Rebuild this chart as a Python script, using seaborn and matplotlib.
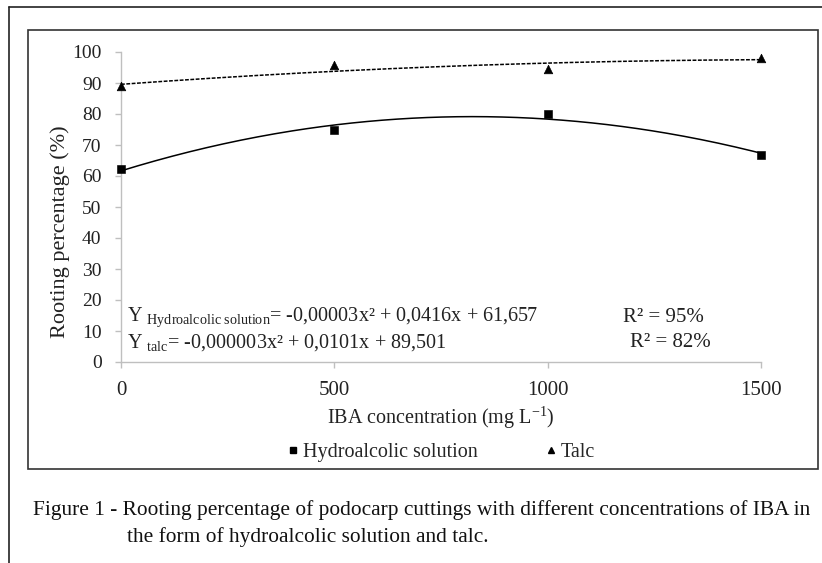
import numpy as np
import pandas as pd
import seaborn as sns
import matplotlib.pyplot as plt
from matplotlib.lines import Line2D
from matplotlib.patches import Rectangle

# data
iba_conc = [0, 500, 1000, 1500]
hydro_rooting = [62.2, 74.8, 80.0, 66.8]
talc_rooting = [88.9, 95.8, 94.4, 98.2]
y_ticks = list(range(0, 101, 10))
x_ticks = [0, 500, 1000, 1500]

sns.set_theme(style="white")
plt.rcParams['font.family'] = ['Liberation Serif', 'DejaVu Serif']
plt.rcParams['mathtext.fontset'] = 'custom'
plt.rcParams['mathtext.rm'] = 'Liberation Serif'
plt.rcParams['mathtext.it'] = 'Liberation Serif:italic'

df = pd.DataFrame({"x": iba_conc * 2,
                   "y": hydro_rooting + talc_rooting,
                   "form": ["Hydroalcolic solution"] * 4 + ["Talc"] * 4})

# quadratic trend lines (like Excel)
xs = np.linspace(0, 1500, 300)
fit_h = np.polyval(np.polyfit(iba_conc, hydro_rooting, 2), xs)
fit_t = np.polyval(np.polyfit(iba_conc, talc_rooting, 2), xs)

fig = plt.figure(figsize=(8.22, 5.63), dpi=100)
ax = fig.add_axes([121 / 822, 1 - 362 / 563, 640 / 822, 310 / 563])

sns.lineplot(x=xs, y=fit_h, ax=ax, color="black", lw=1.1, clip_on=False)
sns.lineplot(x=xs, y=fit_t, ax=ax, color="black", lw=1.1, linestyle=(0, (2.5, 1)), clip_on=False)

hyd = df[df.form == "Hydroalcolic solution"]
tal = df[df.form == "Talc"]
sns.scatterplot(data=hyd, x="x", y="y", ax=ax, marker="s", s=28, color="black",
                edgecolor="black", zorder=5, clip_on=False)
sns.scatterplot(data=tal, x="x", y="y", ax=ax, marker="^", s=38, color="black",
                edgecolor="black", zorder=5, clip_on=False)

ax.set_xlim(0, 1500)
ax.set_ylim(0, 100)
ax.set_xticks(x_ticks)
ax.set_yticks(y_ticks)
for s in ["top", "right"]:
    ax.spines[s].set_visible(False)
for s in ["left", "bottom"]:
    ax.spines[s].set_color("#bfbfbf")
    ax.spines[s].set_linewidth(1.0)
ax.tick_params(axis="both", which="major", direction="out", length=4, width=1,
               color="#bfbfbf", labelcolor="#222222")
ax.tick_params(axis="y", left=True, pad=10, labelsize=14)
ax.tick_params(axis="x", bottom=True, pad=10, labelsize=15)
ax.set_ylabel("Rooting percentage (%)", fontsize=16, color="#222222", va="center")
ax.yaxis.set_label_coords(-0.095, 0.42)
ax.set_xlabel("IBA concentration (mg L$^{\\mathregular{-1}}$)", fontsize=14.5,
              color="#222222", labelpad=3)

# regression equations
ax.text(14, 14.4, "Y $_{\\mathregular{Hydroalcolic\\ solution}}$= -0,00003x² + 0,0416x + 61,657",
        fontsize=14.5, va="center", ha="left", color="#222222")
ax.text(14, 6.4, "Y $_{\\mathregular{talc}}$= -0,000003x² + 0,0101x + 89,501",
        fontsize=14.5, va="center", ha="left", color="#222222")
ax.text(1176, 14.4, "R² = 95%", fontsize=15, va="center", ha="left", color="#222222")
ax.text(1193, 6.4, "R² = 82%", fontsize=15, va="center", ha="left", color="#222222")

handles = [Line2D([], [], marker="s", color="black", ls="none", markersize=5),
           Line2D([], [], marker="^", color="black", ls="none", markersize=5)]
fig.legend(handles, ["Hydroalcolic solution", "Talc"], loc="center",
           bbox_to_anchor=(440 / 822, 1 - 452 / 563), ncol=2, frameon=False,
           fontsize=14.5, handletextpad=0.1, columnspacing=3.2, handlelength=0.8)

# chart frame and page borders
fig.patches.append(Rectangle((28 / 822, 1 - 469 / 563), 790 / 822, 439 / 563,
                             transform=fig.transFigure, fill=False,
                             edgecolor="#333333", lw=1.2))
fig.add_artist(Line2D([9 / 822, 1], [1 - 7 / 563, 1 - 7 / 563],
                      transform=fig.transFigure, color="#222222", lw=1.2))
fig.add_artist(Line2D([9 / 822, 9 / 822], [0, 1 - 7 / 563],
                      transform=fig.transFigure, color="#222222", lw=1.2))

# caption
fig.text(33 / 822, 1 - 510 / 563,
         "Figure 1 - Rooting percentage of podocarp cuttings with different concentrations of IBA in",
         fontsize=15.4, va="center", ha="left", color="#111111")
fig.text(127 / 822, 1 - 537 / 563, "the form of hydroalcolic solution and talc.",
         fontsize=15.4, va="center", ha="left", color="#111111")

fig.savefig("out.png", dpi=100)
